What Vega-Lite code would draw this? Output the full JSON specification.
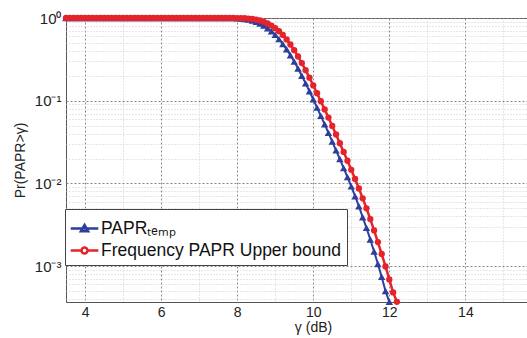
{
 "$schema": "https://vega.github.io/schema/vega-lite/v6.json",
 "width": 461, "height": 284,
 "autosize": {"type": "none"},
 "padding": {"left": 66, "top": 18, "right": 0, "bottom": 36},
 "background": "white",
 "config": {"view": {"stroke": "#555", "strokeWidth": 1}, "font": "Liberation Sans"},
 "data": {"values": [
  {"g":3.5,"b":1,"r":1},{"g":3.6,"b":1,"r":1},{"g":3.7,"b":1,"r":1},{"g":3.8,"b":1,"r":1},{"g":3.9,"b":1,"r":1},
  {"g":4.0,"b":1,"r":1},{"g":4.1,"b":1,"r":1},{"g":4.2,"b":1,"r":1},{"g":4.3,"b":1,"r":1},{"g":4.4,"b":1,"r":1},
  {"g":4.5,"b":1,"r":1},{"g":4.6,"b":1,"r":1},{"g":4.7,"b":1,"r":1},{"g":4.8,"b":1,"r":1},{"g":4.9,"b":1,"r":1},
  {"g":5.0,"b":1,"r":1},{"g":5.1,"b":1,"r":1},{"g":5.2,"b":1,"r":1},{"g":5.3,"b":1,"r":1},{"g":5.4,"b":1,"r":1},
  {"g":5.5,"b":1,"r":1},{"g":5.6,"b":1,"r":1},{"g":5.7,"b":1,"r":1},{"g":5.8,"b":1,"r":1},{"g":5.9,"b":1,"r":1},
  {"g":6.0,"b":1,"r":1},{"g":6.1,"b":1,"r":1},{"g":6.2,"b":1,"r":1},{"g":6.3,"b":1,"r":1},{"g":6.4,"b":1,"r":1},
  {"g":6.5,"b":1,"r":1},{"g":6.6,"b":1,"r":1},{"g":6.7,"b":1,"r":1},{"g":6.8,"b":1,"r":1},{"g":6.9,"b":1,"r":1},
  {"g":7.0,"b":1,"r":1},{"g":7.1,"b":1,"r":1},{"g":7.2,"b":1,"r":1},{"g":7.3,"b":1,"r":1},{"g":7.4,"b":1,"r":1},
  {"g":7.5,"b":1,"r":1},{"g":7.6,"b":0.9997,"r":1},{"g":7.7,"b":0.9993,"r":1},{"g":7.8,"b":0.9984,"r":0.9997},
  {"g":7.9,"b":0.9963,"r":0.9993},{"g":8.0,"b":0.9923,"r":0.9984},{"g":8.1,"b":0.985,"r":0.9963},{"g":8.2,"b":0.974,"r":0.9923},
  {"g":8.3,"b":0.956,"r":0.985},{"g":8.4,"b":0.932,"r":0.974},{"g":8.5,"b":0.899,"r":0.956},{"g":8.6,"b":0.858,"r":0.932},
  {"g":8.7,"b":0.809,"r":0.899},{"g":8.8,"b":0.753,"r":0.858},{"g":8.9,"b":0.692,"r":0.809},{"g":9.0,"b":0.627,"r":0.753},
  {"g":9.1,"b":0.555,"r":0.692},{"g":9.2,"b":0.485,"r":0.625},{"g":9.3,"b":0.418,"r":0.551},{"g":9.4,"b":0.355,"r":0.478},
  {"g":9.5,"b":0.297,"r":0.408},{"g":9.6,"b":0.245,"r":0.343},{"g":9.7,"b":0.200,"r":0.285},{"g":9.8,"b":0.162,"r":0.234},
  {"g":9.9,"b":0.130,"r":0.190},{"g":10.0,"b":0.104,"r":0.153},{"g":10.1,"b":0.0825,"r":0.123},{"g":10.2,"b":0.0655,"r":0.0985},
  {"g":10.3,"b":0.0518,"r":0.0785},{"g":10.4,"b":0.0408,"r":0.0625},{"g":10.5,"b":0.0320,"r":0.0495},{"g":10.6,"b":0.0251,"r":0.0390},
  {"g":10.7,"b":0.0197,"r":0.0306},{"g":10.8,"b":0.0153,"r":0.0240},{"g":10.9,"b":0.0119,"r":0.0188},{"g":11.0,"b":0.0092,"r":0.0146},
  {"g":11.1,"b":0.0070,"r":0.0113},{"g":11.2,"b":0.0053,"r":0.0087},{"g":11.3,"b":0.0039,"r":0.0066},{"g":11.4,"b":0.0029,"r":0.0050},
  {"g":11.5,"b":0.00210,"r":0.0037},{"g":11.6,"b":0.00150,"r":0.0027},{"g":11.7,"b":0.00106,"r":0.00195},{"g":11.8,"b":0.00074,"r":0.00140},
  {"g":11.9,"b":0.00050,"r":0.00099},{"g":12.0,"b":0.00037,"r":0.00069},{"g":12.1,"b":null,"r":0.00048},{"g":12.2,"b":null,"r":0.00037}
 ]},
 "transform": [{"fold": ["b", "r"], "as": ["s", "p"]}],
 "encoding": {
  "x": {"field": "g", "type": "quantitative",
   "scale": {"domain": [3.5, 15.62], "nice": false, "zero": false},
   "axis": {
    "values": [4,4.5,5,5.5,6,6.5,7,7.5,8,8.5,9,9.5,10,10.5,11,11.5,12,12.5,13,13.5,14,14.5,15,15.5],
    "format": "d",
    "labelExpr": "datum.value % 2 === 0 ? datum.label : ''",
    "labelOverlap": false,
    "grid": true,
    "gridColor": {"condition": {"test": "datum.value % 2 === 0", "value": "#8a8a8a"}, "value": "#cfcfcf"},
    "gridDash": {"condition": {"test": "datum.value % 2 === 0", "value": [2, 2]}, "value": [1, 2]},
    "ticks": false, "domain": false,
    "labelFontSize": 14, "labelColor": "#222", "labelPadding": 3,
    "title": "γ (dB)", "titleFontSize": 14, "titleFontWeight": "normal", "titleColor": "#222",
    "titlePadding": 1, "titleX": 247, "titleAlign": "center"
   }},
  "y": {"field": "p", "type": "quantitative",
   "scale": {"type": "log", "domain": [0.000368, 1], "nice": false},
   "axis": {
    "values": [0.0004,0.0005,0.0006,0.0007,0.0008,0.0009,0.001,0.002,0.003,0.004,0.005,0.006,0.007,0.008,0.009,0.01,0.02,0.03,0.04,0.05,0.06,0.07,0.08,0.09,0.1,0.2,0.3,0.4,0.5,0.6,0.7,0.8,0.9,1],
    "labelExpr": "datum.value === 1 ? '10⁰' : datum.value === 0.1 ? '10⁻¹' : datum.value === 0.01 ? '10⁻²' : datum.value === 0.001 ? '10⁻³' : ''",
    "labelOverlap": false,
    "grid": true,
    "gridColor": {"condition": {"test": "datum.value === 1 || datum.value === 0.1 || datum.value === 0.01 || datum.value === 0.001", "value": "#8a8a8a"}, "value": "#cfcfcf"},
    "gridDash": {"condition": {"test": "datum.value === 1 || datum.value === 0.1 || datum.value === 0.01 || datum.value === 0.001", "value": [2, 2]}, "value": [1, 2]},
    "ticks": false, "domain": false,
    "labelFontSize": 15, "labelColor": "#222", "labelPadding": 5,
    "title": "Pr(PAPR>γ)", "titleFontSize": 14, "titleFontWeight": "normal", "titleColor": "#222",
    "titleX": -46, "titleY": 142, "titleAngle": 270, "titleAlign": "center", "titleBaseline": "middle"
   }}
 },
 "layer": [
  {"transform": [{"filter": {"field": "s", "equal": "b"}}],
   "mark": {"type": "line", "strokeWidth": 2, "color": "#2d3e9c"}},
  {"transform": [{"filter": {"field": "s", "equal": "b"}}],
   "mark": {"type": "point", "shape": "triangle-up", "filled": true, "opacity": 1, "size": 55, "color": "#2d3e9c"}},
  {"transform": [{"filter": {"field": "s", "equal": "r"}}],
   "mark": {"type": "line", "strokeWidth": 2.5, "color": "#e5232b"}},
  {"transform": [{"filter": {"field": "s", "equal": "r"}}],
   "mark": {"type": "point", "shape": "circle", "filled": true, "opacity": 1, "size": 40, "color": "#e5232b"}},
  {"mark": {"type": "point", "filled": false, "opacity": 0, "strokeWidth": 2},
   "encoding": {
    "color": {"field": "s", "type": "nominal", "scale": {"domain": ["b", "r"], "range": ["#2d3e9c", "#e5232b"]},
     "legend": {"orient": "none", "legendX": -1, "legendY": 191, "title": null,
      "labelExpr": "datum.value == 'b' ? 'PAPRₜₑₘₚ' : 'Frequency PAPR Upper bound'",
      "labelFontSize": 17.5, "labelColor": "#111", "labelOffset": 3, "labelLimit": 0,
      "symbolSize": 576, "symbolStrokeWidth": 2.5, "symbolOpacity": 1,
      "fillColor": "white", "strokeColor": "#444", "padding": 6, "rowPadding": 0}},
    "shape": {"field": "s", "type": "nominal",
     "scale": {"domain": ["b", "r"], "range": ["M-1.15,0H1.15M0,-0.3L0.3,0.22H-0.3Z", "M-1.15,0H-0.25A0.25,0.25 0 1,0 0.25,0A0.25,0.25 0 1,0 -0.25,0M0.25,0H1.15"]},
     "legend": {"orient": "none", "legendX": -1, "legendY": 191, "title": null,
      "labelExpr": "datum.value == 'b' ? 'PAPRₜₑₘₚ' : 'Frequency PAPR Upper bound'",
      "labelFontSize": 17.5, "labelColor": "#111", "labelOffset": 3, "labelLimit": 0,
      "symbolSize": 576, "symbolStrokeWidth": 2.5, "symbolOpacity": 1,
      "fillColor": "white", "strokeColor": "#444", "padding": 6, "rowPadding": 0}}
   }}
 ]
}
